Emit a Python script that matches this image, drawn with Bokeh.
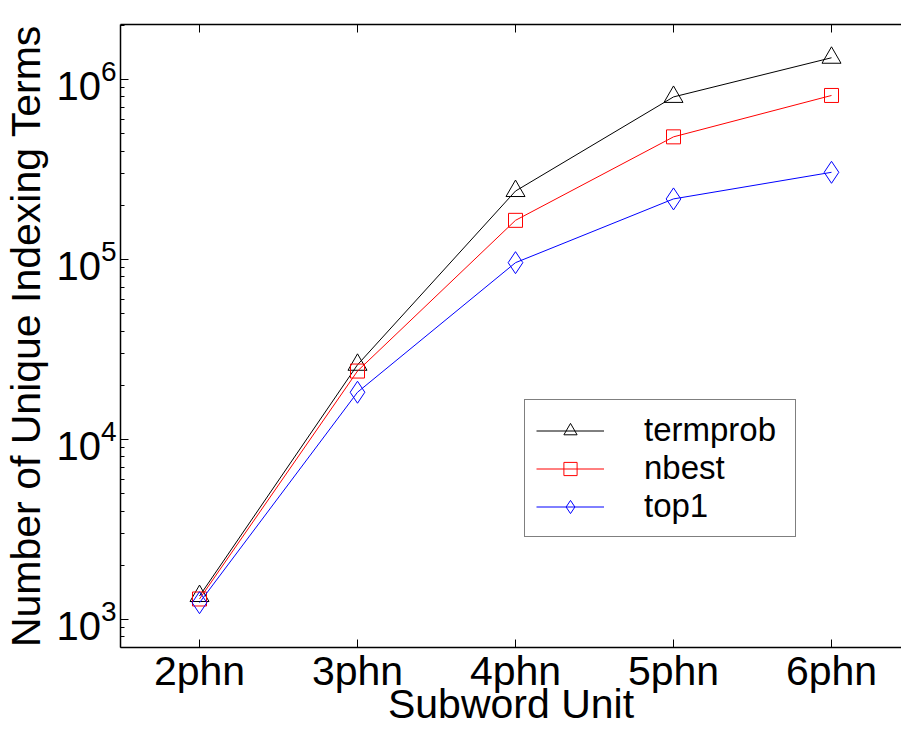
from bokeh.plotting import figure
from bokeh.models import Range1d, FixedTicker, LinearAxis, Legend, LegendItem
from bokeh.embed import file_html
from bokeh.resources import INLINE

# ---- data ----
units = ["2phn", "3phn", "4phn", "5phn", "6phn"]
x_pos = [2, 3, 4, 5, 6]
termprob = [1350, 26000, 240000, 800000, 1320000]
nbest = [1300, 24000, 165000, 480000, 815000]
top1 = [1240, 18300, 96000, 217000, 305000]
y_major = [1e3, 1e4, 1e5, 1e6]
y_minor = [k * 10.0 ** e for e in range(2, 7) for k in range(2, 10)]

FONT = "Liberation Sans"

p = figure(width=901, height=733, y_axis_type="log",
           x_range=Range1d(1.5, 6.443), y_range=Range1d(699, 2.02e6),
           output_backend="svg", toolbar_location=None,
           min_border_left=120, min_border_right=0,
           min_border_top=24, min_border_bottom=86)
p.grid.visible = False
p.outline_line_color = None
p.background_fill_color = "white"
p.border_fill_color = "white"

# x axis
xa = p.xaxis[0]
xa.ticker = FixedTicker(ticks=x_pos)
xa.major_label_overrides = {x: u for x, u in zip(x_pos, units)}
xa.major_label_text_font = FONT
xa.major_label_text_font_size = "41px"
xa.major_label_text_color = "black"
xa.major_label_standoff = 0
xa.major_tick_in = 8
xa.major_tick_out = 0
xa.minor_tick_line_color = None
xa.axis_line_width = 1.5
xa.axis_label = "Subword Unit"
xa.axis_label_text_font = FONT
xa.axis_label_text_font_size = "41px"
xa.axis_label_text_font_style = "normal"
xa.axis_label_text_color = "black"
xa.axis_label_standoff = -16

# top axis (box edge with inward ticks, no labels)
top = LinearAxis(ticker=FixedTicker(ticks=x_pos), major_label_text_color=None,
                 major_tick_in=8, major_tick_out=0, minor_tick_line_color=None,
                 axis_line_width=1.5, major_label_standoff=0)
p.add_layout(top, "above")

# y axis
ya = p.yaxis[0]
ya.ticker = FixedTicker(ticks=y_major, minor_ticks=y_minor)
ya.major_label_text_font = FONT
ya.major_label_text_font_size = "40px"
ya.major_label_text_color = "black"
ya.major_label_standoff = 4
ya.major_tick_in = 8
ya.major_tick_out = 0
ya.minor_tick_in = 4
ya.minor_tick_out = 0
ya.axis_line_width = 1.5
ya.axis_label = "Number of Unique Indexing Terms"
ya.axis_label_text_font = FONT
ya.axis_label_text_font_size = "41px"
ya.axis_label_text_font_style = "normal"
ya.axis_label_text_color = "black"
ya.axis_label_standoff = 4

series = [("termprob", termprob, "black", "triangle", 19),
          ("nbest", nbest, "red", "square", 14),
          ("top1", top1, "blue", "diamond", 22)]
items = []
for name, vals, col, mk, sz in series:
    ln = p.line(x_pos, vals, line_color=col, line_width=1)
    sc = p.scatter(x_pos, vals, marker=mk, size=sz, line_color=col,
                   fill_color=None, line_width=1)
    items.append(LegendItem(label=name, renderers=[ln, sc]))

legend = Legend(items=items, location=(404, 110), margin=0,
                label_text_font=FONT, label_text_font_size="33px",
                label_text_color="black",
                glyph_width=68, glyph_height=33, label_height=33,
                label_width=140, label_standoff=40, padding=11, spacing=0,
                border_line_color="black", border_line_width=1.2,
                background_fill_color="white", background_fill_alpha=1)
p.add_layout(legend)

open("out.html", "w").write(file_html(p, INLINE))
